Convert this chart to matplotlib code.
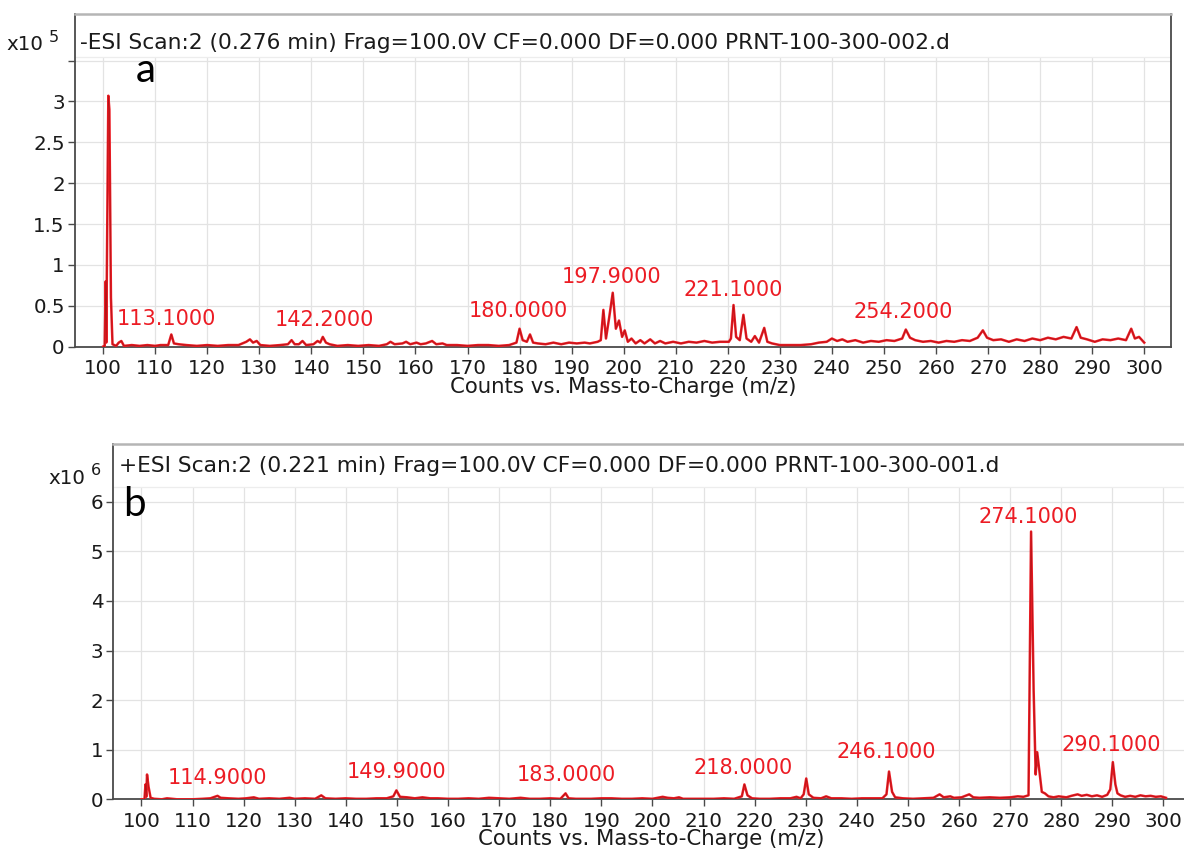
import matplotlib

matplotlib.use("Agg")
import matplotlib.pyplot as plt
from matplotlib.transforms import offset_copy

W, H = 1184, 857
plt.rcParams["font.family"] = ["DejaVu Sans"]

# ---- panel a: negative ESI scan (counts x10^5) ----
neg_title = "-ESI Scan:2 (0.276 min) Frag=100.0V CF=0.000 DF=0.000 PRNT-100-300-002.d"
neg_mz = [
    100.0, 100.3, 100.5, 100.6, 100.8, 101.0, 101.2, 101.5, 101.8, 102.5,
    103.0, 103.5, 104.0, 105.5, 107.0, 108.5, 110.0, 111.0, 112.5, 113.1,
    113.6, 114.5, 116.0, 118.0, 120.0, 122.0, 124.0, 126.0, 127.5, 128.2,
    128.8, 129.5, 130.2, 132.0, 134.0, 135.5, 136.2, 136.8, 137.6, 138.3,
    139.0, 140.4, 141.2, 141.7, 142.2, 142.8, 143.5, 145.0, 147.0, 149.0,
    151.0, 153.0, 154.5, 155.2, 156.0, 157.5, 158.2, 159.0, 160.2, 161.0,
    162.0, 163.2, 164.0, 165.2, 166.0, 168.0, 170.0, 172.0, 174.0, 176.0,
    178.0, 179.4, 180.0, 180.6, 181.4, 182.0, 182.6, 183.5, 185.0, 186.5,
    188.0, 189.5, 191.0, 192.5, 193.5, 195.0, 195.6, 196.1, 196.6, 197.2,
    197.9, 198.5, 199.1, 199.7, 200.2, 200.8, 201.5, 202.3, 203.2, 204.0,
    205.1, 206.0, 207.0, 208.0, 209.5, 211.0, 212.5, 214.0, 215.5, 217.0,
    218.5, 220.2, 220.6, 221.1, 221.6, 222.3, 223.0, 223.6, 224.5, 225.2,
    226.0, 227.0, 227.6, 228.5, 230.0, 232.0, 234.0, 236.0, 237.5, 239.0,
    240.0, 241.0, 242.0, 243.0, 244.5, 246.0, 247.5, 249.0, 250.5, 252.0,
    253.5, 254.2, 255.0, 256.0, 257.5, 259.0, 260.5, 262.0, 263.5, 265.0,
    266.5, 268.0, 269.0, 269.8, 271.0, 272.5, 274.0, 275.5, 277.0, 278.5,
    280.0, 281.5, 283.0, 284.5, 286.0, 287.0, 287.8, 289.0, 290.5, 292.0,
    293.5, 295.0, 296.5, 297.5, 298.2, 299.0, 300.0,
]
neg_counts = [
    0.00, 0.00, 0.80, 0.05, 1.60, 3.07, 2.90, 0.60, 0.03, 0.01,
    0.05, 0.07, 0.01, 0.02, 0.01, 0.02, 0.01, 0.02, 0.02, 0.15,
    0.04, 0.03, 0.02, 0.01, 0.02, 0.01, 0.02, 0.02, 0.06, 0.09,
    0.05, 0.07, 0.02, 0.01, 0.02, 0.03, 0.08, 0.03, 0.03, 0.07,
    0.02, 0.03, 0.07, 0.05, 0.12, 0.05, 0.03, 0.01, 0.02, 0.01,
    0.02, 0.01, 0.03, 0.06, 0.03, 0.04, 0.06, 0.03, 0.05, 0.03,
    0.04, 0.07, 0.03, 0.04, 0.02, 0.02, 0.01, 0.02, 0.02, 0.01,
    0.02, 0.05, 0.22, 0.08, 0.06, 0.15, 0.05, 0.04, 0.03, 0.05,
    0.03, 0.05, 0.04, 0.05, 0.04, 0.06, 0.08, 0.45, 0.10, 0.35,
    0.66, 0.22, 0.32, 0.12, 0.20, 0.06, 0.10, 0.04, 0.08, 0.04,
    0.09, 0.04, 0.07, 0.04, 0.06, 0.04, 0.06, 0.05, 0.07, 0.05,
    0.06, 0.06, 0.10, 0.51, 0.12, 0.08, 0.39, 0.10, 0.06, 0.13,
    0.05, 0.23, 0.06, 0.04, 0.02, 0.02, 0.02, 0.03, 0.05, 0.06,
    0.10, 0.07, 0.09, 0.06, 0.08, 0.05, 0.07, 0.06, 0.08, 0.07,
    0.10, 0.21, 0.11, 0.08, 0.06, 0.07, 0.05, 0.07, 0.06, 0.08,
    0.07, 0.11, 0.20, 0.11, 0.08, 0.09, 0.06, 0.09, 0.07, 0.10,
    0.08, 0.11, 0.09, 0.12, 0.10, 0.24, 0.11, 0.09, 0.06, 0.09,
    0.08, 0.10, 0.08, 0.22, 0.10, 0.12, 0.05,
]
neg_peaks = [113.1, 142.2, 180.0, 197.9, 221.1, 254.2]

# ---- panel b: positive ESI scan (counts x10^6) ----
pos_title = "+ESI Scan:2 (0.221 min) Frag=100.0V CF=0.000 DF=0.000 PRNT-100-300-001.d"
pos_mz = [
    100.0, 100.6, 100.8, 100.95, 101.1, 101.4, 101.8, 102.5, 104.0, 105.0,
    107.0, 110.0, 112.0, 113.5, 114.9, 115.5, 117.0, 119.0, 120.5, 122.0,
    123.0, 125.0, 127.0, 129.0, 130.0, 132.0, 134.0, 135.2, 136.0, 138.0,
    140.0, 142.0, 144.0, 146.0, 148.0, 149.3, 149.9, 150.6, 152.0, 153.5,
    155.0, 156.5, 158.0, 160.0, 162.0, 164.0, 166.0, 168.0, 170.0, 172.0,
    174.2, 176.0, 178.0, 180.0, 182.0, 183.0, 183.6, 185.0, 188.0, 190.0,
    192.0, 194.0, 196.0, 198.0, 200.0, 202.0, 203.0, 204.2, 205.2, 206.0,
    208.0, 210.0, 212.0, 214.0, 216.0, 217.5, 218.0, 218.6, 219.5, 221.0,
    223.0, 225.0, 227.0, 228.2, 229.0, 229.6, 230.1, 230.6, 231.5, 233.0,
    234.0, 235.0, 237.0, 239.0, 241.0, 243.0, 245.0, 245.8, 246.3, 246.9,
    247.5, 249.0, 251.0, 253.0, 255.0, 256.2, 257.0, 258.3, 259.0, 260.5,
    262.0, 262.8, 264.0, 266.0, 268.0, 270.0, 271.5, 272.6, 273.6, 274.1,
    274.6, 275.0, 275.3, 275.7, 276.2, 276.8, 277.5, 278.5, 279.5, 281.0,
    282.0, 283.2, 284.0, 285.0, 286.0, 287.0, 288.0, 289.0, 289.6, 290.1,
    290.6, 291.0, 291.6, 292.5, 293.5, 294.5, 295.5, 296.5, 297.5, 298.5,
    299.5, 300.5,
]
pos_counts = [
    0.00, 0.00, 0.30, 0.05, 0.50, 0.25, 0.03, 0.01, 0.00, 0.02,
    0.00, 0.00, 0.01, 0.02, 0.07, 0.03, 0.02, 0.01, 0.02, 0.04,
    0.01, 0.02, 0.01, 0.03, 0.01, 0.02, 0.01, 0.08, 0.02, 0.01,
    0.02, 0.01, 0.01, 0.02, 0.02, 0.06, 0.18, 0.05, 0.04, 0.02,
    0.04, 0.02, 0.02, 0.01, 0.01, 0.02, 0.01, 0.03, 0.02, 0.01,
    0.03, 0.01, 0.01, 0.02, 0.01, 0.12, 0.02, 0.01, 0.01, 0.02,
    0.02, 0.01, 0.01, 0.02, 0.01, 0.05, 0.03, 0.02, 0.04, 0.01,
    0.01, 0.01, 0.01, 0.02, 0.01, 0.06, 0.30, 0.08, 0.02, 0.01,
    0.01, 0.02, 0.02, 0.05, 0.02, 0.10, 0.42, 0.10, 0.03, 0.02,
    0.06, 0.02, 0.02, 0.01, 0.02, 0.02, 0.02, 0.10, 0.56, 0.15,
    0.04, 0.02, 0.01, 0.02, 0.03, 0.10, 0.04, 0.06, 0.03, 0.04,
    0.10, 0.04, 0.03, 0.04, 0.03, 0.04, 0.06, 0.05, 0.08, 5.40,
    2.20, 0.50, 0.95, 0.60, 0.15, 0.12, 0.06, 0.04, 0.06, 0.04,
    0.07, 0.10, 0.07, 0.09, 0.06, 0.08, 0.05, 0.09, 0.20, 0.75,
    0.30, 0.12, 0.08, 0.05, 0.07, 0.05, 0.08, 0.06, 0.07, 0.05,
    0.06, 0.03,
]
pos_peaks = [114.9, 149.9, 183.0, 218.0, 246.1, 274.1, 290.1]

mz_ticks = list(range(100, 301, 10))

RED = "#ec1c24"
DARK_RED = "#8a0d0d"
FRAME = "#4a4a4a"
GRID = "#e3e3e3"
INK = "#1a1a1a"


def px_axes(fig, left, top, right, bottom):
    """Add axes from pixel edges (origin at top-left)."""
    return fig.add_axes([left / W, 1 - bottom / H, (right - left) / W, (bottom - top) / H])


def draw_spectrum(ax, mz, counts, yticks, ymax, grid_top, title, title_drop, peaks,
                  label_y, label_dx, scale_exp, panel, exp_xy, letter_xy):
    ax.set_xlim(94.5, 305.2)
    ax.set_ylim(0, ymax)

    # light grid, which stops below the header strip
    ax.vlines(mz_ticks, 0, grid_top, color=GRID, lw=0.9, zorder=0)
    ax.hlines(yticks[1:], 94.5, 305.2, color=GRID, lw=0.9, zorder=0)
    ax.hlines(grid_top, 94.5, 305.2, color="#ededed", lw=0.9, zorder=0)

    ax.plot(mz, counts, color=RED, lw=1.8, zorder=3)
    ax.plot(mz, counts, color=DARK_RED, lw=0.5, alpha=0.6, zorder=4)

    for spine in ax.spines.values():
        spine.set_color(FRAME)
        spine.set_linewidth(1.3)
    ax.spines["top"].set_color("#b5b5b5")
    ax.spines["top"].set_linewidth(1.8)

    ax.set_xticks(mz_ticks)
    ax.set_xticklabels([str(t) for t in mz_ticks])
    ax.set_yticks(yticks)
    ax.set_yticklabels([("%g" % t if t <= grid_top - 0.3 else "") for t in yticks])
    ax.tick_params(axis="both", direction="out", length=5, width=1, color=FRAME,
                   labelsize=14.3, labelcolor=INK)
    ax.tick_params(axis="x", pad=4)
    ax.tick_params(axis="y", pad=2)
    ax.set_xlabel("Counts vs. Mass-to-Charge (m/z)", fontsize=15.3, labelpad=-1, color=INK)

    # header line sits a fixed number of pixels under the top frame
    head = offset_copy(ax.transAxes, fig=ax.figure, y=-title_drop * 0.72, units="points")
    ax.text(0.005, 1.0, title, transform=head, fontsize=15.7, va="center", ha="left", color=INK)

    for mz_val, ly, dx in zip(peaks, label_y, label_dx):
        ax.text(mz_val + dx, ly, "%.4f" % mz_val, fontsize=15, color=RED,
                ha="center", va="center")

    fig = ax.figure
    ex, ey = exp_xy
    fig.text(ex / W, 1 - ey / H, "x10", fontsize=14.3, ha="right", va="center", color=INK)
    fig.text((ex + 6) / W, 1 - (ey - 7) / H, str(scale_exp), fontsize=11.5, ha="left",
             va="center", color=INK)
    lx, ly = letter_xy
    fig.text(lx / W, 1 - ly / H, panel, fontsize=29, family=["Lato", "DejaVu Sans"],
             ha="left", va="baseline", color="black")


fig = plt.figure(figsize=(W / 100, H / 100), dpi=100)
fig.patch.set_facecolor("white")

ax_a = px_axes(fig, 74.5, 14, 1171.3, 346.7)
draw_spectrum(
    ax_a, neg_mz, neg_counts,
    yticks=[0, 0.5, 1, 1.5, 2, 2.5, 3, 3.5], ymax=4.07, grid_top=3.55,
    title=neg_title, title_drop=29, peaks=neg_peaks,
    label_y=[0.34, 0.33, 0.44, 0.85, 0.69, 0.42],
    label_dx=[-1.0, 0.3, -0.2, -0.3, -0.1, -0.6],
    scale_exp=5, panel="a", exp_xy=(43, 44), letter_xy=(136, 82),
)

ax_b = px_axes(fig, 113.3, 444.3, 1190, 799.3)
draw_spectrum(
    ax_b, pos_mz, pos_counts,
    yticks=[0, 1, 2, 3, 4, 5, 6], ymax=7.16, grid_top=6.3,
    title=pos_title, title_drop=22, peaks=pos_peaks,
    label_y=[0.43, 0.55, 0.49, 0.63, 0.96, 5.69, 1.10],
    label_dx=[0.0, 0.0, 0.2, -0.3, -0.4, -0.6, -0.4],
    scale_exp=6, panel="b", exp_xy=(85, 478), letter_xy=(123, 516),
)

fig.savefig("out.png", dpi=100, facecolor="white")
